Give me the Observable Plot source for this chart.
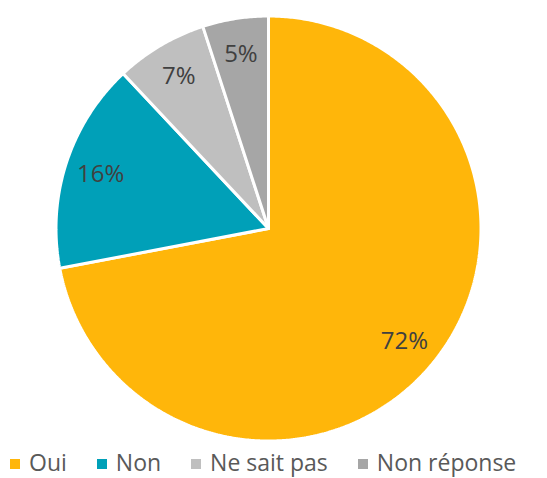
<!DOCTYPE html>
<html>
<head>
<meta charset="utf-8">
<script src="https://cdn.jsdelivr.net/npm/d3@7"></script>
<script src="https://cdn.jsdelivr.net/npm/@observablehq/plot@0.6"></script>
<style>
  html, body { margin: 0; padding: 0; background: #fff; overflow: hidden; }
  #chart { width: 547px; }
  .legend { display: flex; align-items: center; padding-left: 10px; height: 32px; margin-top: 0;
    font-family: "Open Sans", sans-serif; font-size: 23px; line-height: 32px; color: #595959; white-space: nowrap; }
  .legend .item { display: flex; align-items: center; margin-right: 30px; }
  .legend .sw { width: 10px; height: 10px; margin-right: 9px; margin-top: 3px; }
</style>
</head>
<body>
<div id="chart"></div>
<script>
const categories = ["Oui", "Non", "Ne sait pas", "Non réponse"];
const values = [72, 16, 7, 5];
const labels = ["72%", "16%", "7%", "5%"];
const colors = ["#FFB60A", "#00A0B8", "#BFBFBF", "#A6A6A6"];

const total = d3.sum(values);
const slices = [];
const labelPts = [];
let cum = 0;
categories.forEach((cat, i) => {
  const a0 = cum / total * 2 * Math.PI;
  cum += values[i];
  const a1 = cum / total * 2 * Math.PI;
  slices.push({cat, x: 0, y: 0});
  const n = Math.max(2, Math.ceil((a1 - a0) / (Math.PI / 360)));
  for (let k = 0; k <= n; k++) {
    const a = a0 + (a1 - a0) * k / n;
    slices.push({cat, x: Math.sin(a), y: Math.cos(a)});
  }
  slices.push({cat, x: 0, y: 0});
  const am = (a0 + a1) / 2;
  labelPts.push({cat, label: labels[i], x: 0.83 * Math.sin(am), y: 0.83 * Math.cos(am)});
});

const W = 547, H = 446;
const cx = 268, cy = 228, r = 212.5;
const plot = Plot.plot({
  width: W,
  height: H,
  marginLeft: cx - r,
  marginRight: W - (cx + r),
  marginTop: cy - r,
  marginBottom: H - (cy + r),
  x: {domain: [-1, 1], axis: null},
  y: {domain: [-1, 1], axis: null},
  color: {domain: categories, range: colors},
  style: {fontFamily: "Open Sans, sans-serif", background: "#fff"},
  marks: [
    Plot.line(slices, {x: "x", y: "y", z: "cat", fill: "cat", stroke: "white", strokeWidth: 3, strokeLinejoin: "miter"}),
    Plot.text(labelPts, {x: "x", y: "y", text: "label", fill: "#404040", fontSize: 24, fontFamily: "Open Sans, sans-serif"})
  ]
});
document.getElementById("chart").appendChild(plot);

const legend = document.createElement("div");
legend.className = "legend";
categories.forEach((cat, i) => {
  const item = document.createElement("div");
  item.className = "item";
  const sw = document.createElement("span");
  sw.className = "sw";
  sw.style.background = colors[i];
  const t = document.createElement("span");
  t.textContent = cat;
  item.appendChild(sw);
  item.appendChild(t);
  legend.appendChild(item);
});
document.getElementById("chart").appendChild(legend);
</script>
</body>
</html>
